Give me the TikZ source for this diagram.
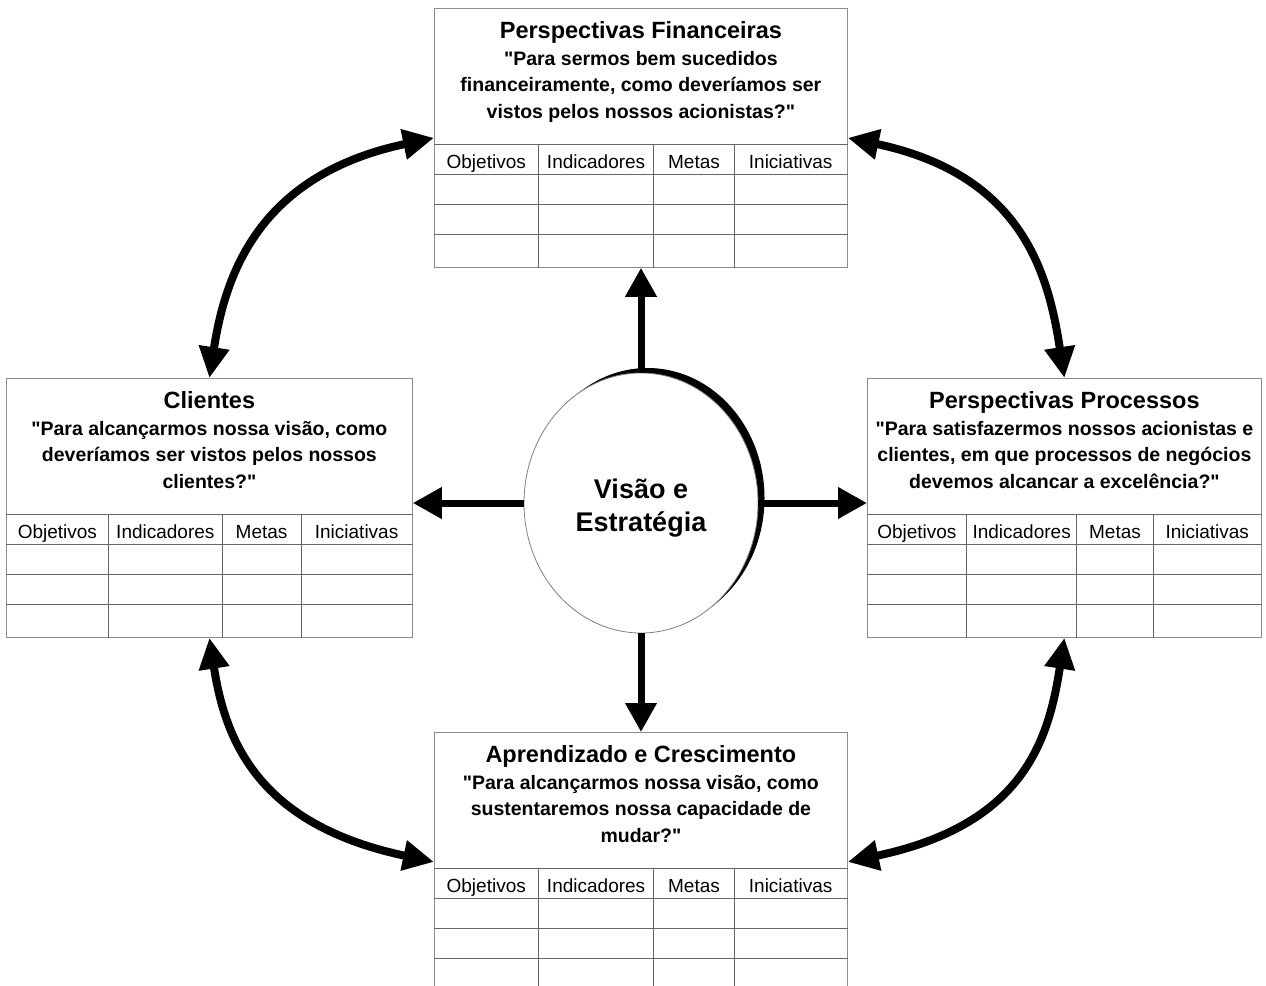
\documentclass[tikz,border=0pt]{standalone}
\usepackage{fontspec}
\setmainfont{Liberation Sans}[Ligatures=TeXOff]
\usetikzlibrary{arrows.meta,calc,shapes.geometric,shadows}

% One perspective panel: title, guiding question and a 4-column table
% #1 name, #2 north-west corner, #3 width, #4 title, #5 question
\newcommand\bscpanel[5]{%
  \node[panel, minimum width=#3pt] (#1) at (#2) {};
  \pgfmathsetmacro\cA{0.253*#3}%
  \pgfmathsetmacro\cB{0.532*#3}%
  \pgfmathsetmacro\cC{0.727*#3}%
  \node[ttl] (#1-t) at ($(#1.north)+(0,30)$) {#4};
  \node[qst] (#1-q) at ($(#1.north)+(0,43)$) {#5};
  \foreach \r in {136,166,196,226}{
    \draw[grid] ($(#1.north west)+(0,\r)$) -- ($(#1.north east)+(0,\r)$);
  }
  \foreach \c in {\cA,\cB,\cC}{
    \draw[grid] ($(#1.north west)+(\c,136)$) -- ($(#1.south west)+(\c,0)$);
  }
  \node[hdr] (#1-h1) at ($(#1.north west)+(0.5*\cA,160)$) {Objetivos};
  \node[hdr] (#1-h2) at ($(#1.north west)+(0.5*\cA+0.5*\cB,160)$) {Indicadores};
  \node[hdr] (#1-h3) at ($(#1.north west)+(0.5*\cB+0.5*\cC,160)$) {Metas};
  \node[hdr] (#1-h4) at ($(#1.north west)+(0.5*\cC+0.5*#3,160)$) {Iniciativas};
}

\begin{document}
\begin{tikzpicture}[x=1pt,y=-1pt,
  panel/.style={draw=black!45, line width=0.8pt, rectangle, inner sep=0pt,
    anchor=north west, minimum height=259pt},
  grid/.style={draw=black!60, line width=0.8pt},
  ttl/.style={font=\bfseries\fontsize{23.5}{28}\selectfont, anchor=base, inner sep=0pt},
  qst/.style={font=\bfseries\fontsize{19.5}{26.5}\selectfont, align=center,
    anchor=north, inner sep=0pt},
  hdr/.style={font=\fontsize{19}{22}\selectfont, anchor=base, inner sep=0pt},
  spoke/.style={line width=7pt, -{Triangle[length=29pt,width=30pt]}},
  link/.style={line width=8pt,
    {Triangle[length=31pt,width=29pt]}-{Triangle[length=31pt,width=29pt]}},
]
\path[use as bounding box, fill=white] (0,0) rectangle (1266,985);

\bscpanel{fin}{434,8}{413}{Perspectivas Financeiras}%
  {"Para sermos bem sucedidos\\financeiramente, como deveríamos ser\\vistos pelos nossos acionistas?"}
\bscpanel{cli}{6,378}{406}{Clientes}%
  {"Para alcançarmos nossa visão, como\\deveríamos ser vistos pelos nossos\\clientes?"}
\bscpanel{pro}{867,378}{394}{Perspectivas Processos}%
  {"Para satisfazermos nossos acionistas e\\clientes, em que processos de negócios\\devemos alcancar a excelência?"}
\bscpanel{apr}{434,732}{413}{Aprendizado e Crescimento}%
  {"Para alcançarmos nossa visão, como\\sustentaremos nossa capacidade de\\mudar?"}

% central vision node with a solid crescent shadow
\node[ellipse, draw=black!50, line width=0.8pt, fill=white, inner sep=0pt,
  minimum width=234pt, minimum height=260pt,
  drop shadow={shadow xshift=6.5pt, shadow yshift=5pt, fill=black, opacity=1}]
  (vis) at (641,503) {};
\node[align=center, inner sep=0pt, font=\bfseries\fontsize{27}{33}\selectfont]
  (vis-t) at ($(vis.center)+(0,5)$) {Visão e\\Estratégia};

% spokes from the vision to each perspective
\draw[spoke] (vis.north) -- (vis.north |- fin.south);
\draw[spoke] (vis.west) -- (vis.west -| cli.east);
\draw[spoke] (vis.east) -- (vis.east -| pro.west);
\draw[spoke] (vis.south) -- (vis.south |- apr.north);

% links between neighbouring perspectives
\draw[link] (cli.north) .. controls +(16,-104) and +(-175,37) .. (fin.west);
\draw[link] (pro.north) .. controls +(-16,-104) and +(175,37) .. (fin.east);
\draw[link] (cli.south) .. controls +(16,104) and +(-175,-37) .. (apr.west);
\draw[link] (pro.south) .. controls +(-16,104) and +(175,-37) .. (apr.east);
\end{tikzpicture}
\end{document}
